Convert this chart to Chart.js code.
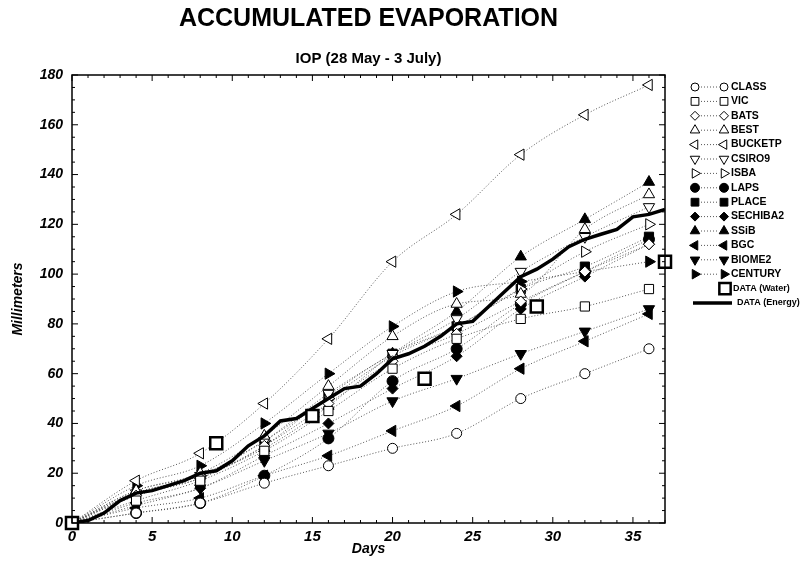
<!DOCTYPE html>
<html lang="en">
<head>
<meta charset="UTF-8">
<title>Accumulated Evaporation</title>
<script src="https://cdn.jsdelivr.net/npm/chart.js"></script>
<style>
  body { margin: 0; background: #fff; }
</style>
</head>
<body>
<canvas id="evapChart" width="809" height="573"></canvas>

<script>
    // model output every 4 days (day 0 has no marker)
    const modelDays = [0, 4, 8, 12, 16, 20, 24, 28, 32, 36];
    const classVals    = [0, 4, 8, 16, 23, 30, 36, 50, 60, 70];
    const vicVals      = [0, 9, 17, 29, 45, 62, 74, 82, 87, 94];
    const batsVals     = [0, 11, 18, 31, 48, 65, 76, 89, 101, 112];
    const bestVals     = [0, 13, 20, 35, 55, 75, 88, 92, 118, 132];
    const bucketpVals  = [0, 17, 28, 48, 74, 105, 124, 148, 164, 176];
    const csiro9Vals   = [0, 12, 19, 33, 52, 68, 82, 101, 115, 127];
    const isbaVals     = [0, 12, 19, 33, 50, 67, 79, 94, 109, 120];
    const lapsVals     = [0, 4, 8, 19, 34, 57, 70, 88, 101, 114];
    const placeVals    = [0, 11, 18, 31, 51, 68, 79, 94, 103, 115];
    const sechiba2Vals = [0, 8, 14, 27, 40, 54, 67, 86, 99, 112];
    const ssibVals     = [0, 13, 19, 30, 47, 68, 85, 107, 122, 137];
    const bgcVals      = [0, 6, 10, 19, 27, 37, 47, 62, 73, 84];
    const biome2Vals   = [0, 7, 14, 25, 36, 49, 58, 68, 77, 86];
    const centuryVals  = [0, 15, 23, 40, 60, 79, 93, 97, 101, 105];

    // observations
    const waterDays = [0, 9, 15, 22, 29, 37];
    const waterVals = [0, 32, 43, 58, 87, 105];
    const energyDays = [0, 1, 2, 3, 4, 5, 6, 7, 8, 9, 10, 11, 12, 13, 14, 15, 16, 17, 18,
                        19, 20, 21, 22, 23, 24, 25, 26, 27, 28, 29, 30, 31, 32, 33, 34, 35, 36, 37];
    const energyVals = [0, 1, 4, 9, 12, 13, 15, 17, 20, 21, 25, 31, 35, 41, 42, 46, 50, 54, 55,
                        60, 66, 68, 71, 75, 80, 81, 87, 93, 99, 102, 106, 111, 114, 116, 118, 123, 124, 126];

    const yTicks = [0, 20, 40, 60, 80, 100, 120, 140, 160, 180];

    const models = [
        { name: 'CLASS',    vals: classVals,    style: 'circle',   rot: 0,   r: 5,   open: true },
        { name: 'VIC',      vals: vicVals,      style: 'rect',     rot: 0,   r: 6.5, open: true },
        { name: 'BATS',     vals: batsVals,     style: 'rectRot',  rot: 0,   r: 5.5, open: true },
        { name: 'BEST',     vals: bestVals,     style: 'triangle', rot: 0,   r: 6.5, open: true },
        { name: 'BUCKETP',  vals: bucketpVals,  style: 'triangle', rot: 270, r: 6.5, open: true },
        { name: 'CSIRO9',   vals: csiro9Vals,   style: 'triangle', rot: 180, r: 6.5, open: true },
        { name: 'ISBA',     vals: isbaVals,     style: 'triangle', rot: 90,  r: 6.5, open: true },
        { name: 'LAPS',     vals: lapsVals,     style: 'circle',   rot: 0,   r: 5.5, open: false },
        { name: 'PLACE',    vals: placeVals,    style: 'rect',     rot: 0,   r: 6.5, open: false },
        { name: 'SECHIBA2', vals: sechiba2Vals, style: 'rectRot',  rot: 0,   r: 5.5, open: false },
        { name: 'SSiB',     vals: ssibVals,     style: 'triangle', rot: 0,   r: 6.5, open: false },
        { name: 'BGC',      vals: bgcVals,      style: 'triangle', rot: 270, r: 6.5, open: false },
        { name: 'BIOME2',   vals: biome2Vals,   style: 'triangle', rot: 180, r: 6.5, open: false },
        { name: 'CENTURY',  vals: centuryVals,  style: 'triangle', rot: 90,  r: 6.5, open: false }
    ];

    function pairs(xs, ys) {
        return xs.map((x, i) => ({ x: x, y: ys[i] }));
    }

    const datasets = [
        {
            label: 'DATA (Water)',
            data: pairs(waterDays, waterVals),
            showLine: false,
            pointStyle: 'rect',
            pointRadius: 8.5,
            pointBorderWidth: 2.5,
            pointBorderColor: '#000',
            pointBackgroundColor: '#fff',
            clip: false
        },
        {
            label: 'DATA (Energy)',
            data: pairs(energyDays, energyVals),
            borderColor: '#000',
            borderWidth: 3.5,
            pointRadius: 0,
            tension: 0
        }
    ];

    models.forEach(m => {
        datasets.push({
            label: m.name,
            data: pairs(modelDays, m.vals),
            borderColor: '#555',
            borderWidth: 1,
            borderDash: [1, 2],
            cubicInterpolationMode: 'monotone',
            pointStyle: m.style,
            pointRotation: m.rot,
            pointRadius: ctx => ctx.dataIndex === 0 ? 0 : m.r,
            pointBorderColor: '#000',
            pointBorderWidth: 1,
            pointBackgroundColor: m.open ? '#fff' : '#000'
        });
    });

    // box around the plot with inward ticks on all four sides
    const frameTicks = {
        id: 'frameTicks',
        afterDatasetsDraw(chart) {
            const { ctx, chartArea: a, scales } = chart;
            ctx.save();
            ctx.strokeStyle = '#000';
            ctx.lineWidth = 1.5;
            ctx.strokeRect(a.left, a.top, a.right - a.left, a.bottom - a.top);
            ctx.lineWidth = 1;
            ctx.beginPath();
            for (let d = 0; d <= 37; d++) {
                const px = scales.x.getPixelForValue(d);
                const len = d % 5 === 0 ? 6 : 3;
                ctx.moveTo(px, a.bottom); ctx.lineTo(px, a.bottom - len);
                ctx.moveTo(px, a.top); ctx.lineTo(px, a.top + len);
            }
            for (let v = 0; v <= 180; v += 5) {
                const py = scales.y.getPixelForValue(v);
                const len = v % 20 === 0 ? 6 : 3;
                ctx.moveTo(a.left, py); ctx.lineTo(a.left + len, py);
                ctx.moveTo(a.right, py); ctx.lineTo(a.right - len, py);
            }
            ctx.stroke();
            ctx.restore();
        }
    };

    const headings = {
        id: 'headings',
        afterDraw(chart) {
            const { ctx, chartArea: a } = chart;
            const cx = (a.left + a.right) / 2;
            ctx.save();
            ctx.fillStyle = '#000';
            ctx.textAlign = 'center';
            ctx.textBaseline = 'middle';
            ctx.font = 'bold 25px "Liberation Sans", Arial, sans-serif';
            ctx.fillText('ACCUMULATED EVAPORATION', cx, 19);
            ctx.font = 'bold 15px "Liberation Sans", Arial, sans-serif';
            ctx.fillText('IOP (28 May - 3 July)', cx, 59);
            ctx.restore();
        }
    };

    const sideLegend = {
        id: 'sideLegend',
        afterDraw(chart) {
            const ctx = chart.ctx;
            const x1 = 695, x2 = 724, tx = 731, y0 = 87, dy = 14.4;
            ctx.save();
            ctx.font = 'bold 10.5px "Liberation Sans", Arial, sans-serif';
            ctx.textBaseline = 'middle';
            ctx.textAlign = 'left';
            models.forEach((m, i) => {
                const y = y0 + i * dy;
                ctx.strokeStyle = '#555';
                ctx.lineWidth = 1;
                ctx.setLineDash([1, 2]);
                ctx.beginPath();
                ctx.moveTo(x1 + 6, y); ctx.lineTo(x2 - 6, y);
                ctx.stroke();
                ctx.setLineDash([]);
                ctx.strokeStyle = '#000';
                ctx.fillStyle = m.open ? '#fff' : '#000';
                const opts = { pointStyle: m.style, rotation: m.rot, radius: m.r - 1, borderWidth: 1 };
                Chart.helpers.drawPoint(ctx, opts, x1, y);
                ctx.fillStyle = m.open ? '#fff' : '#000';
                Chart.helpers.drawPoint(ctx, opts, x2, y);
                ctx.fillStyle = '#000';
                ctx.fillText(m.name, tx, y);
            });
            let y = y0 + models.length * dy;
            ctx.lineWidth = 2.5;
            ctx.strokeStyle = '#000';
            ctx.fillStyle = '#fff';
            Chart.helpers.drawPoint(ctx, { pointStyle: 'rect', rotation: 0, radius: 8, borderWidth: 2.5 }, x2 + 1, y);
            ctx.fillStyle = '#000';
            ctx.font = 'bold 9px "Liberation Sans", Arial, sans-serif';
            ctx.fillText('DATA (Water)', tx + 2, y);
            y += dy;
            ctx.lineWidth = 3.5;
            ctx.beginPath();
            ctx.moveTo(x1 - 2, y); ctx.lineTo(x2 + 8, y);
            ctx.stroke();
            ctx.fillText('DATA (Energy)', tx + 6, y);
            ctx.restore();
        }
    };

    const ctx = document.getElementById('evapChart').getContext('2d');
    new Chart(ctx, {
        type: 'line',
        data: { datasets: datasets },
        options: {
            responsive: false,
            animation: false,
            layout: { padding: { left: 10, right: 144, top: 75, bottom: 15 } },
            plugins: {
                legend: { display: false },
                tooltip: { enabled: false }
            },
            scales: {
                x: {
                    type: 'linear',
                    min: 0,
                    max: 37,
                    grid: { display: false, drawTicks: false },
                    border: { display: false },
                    ticks: {
                        stepSize: 5,
                        includeBounds: false,
                        padding: 5,
                        color: '#000',
                        font: { family: '"Liberation Sans", Arial, sans-serif', size: 15, weight: 'bold', style: 'italic' }
                    },
                    title: {
                        display: true,
                        text: 'Days',
                        color: '#000',
                        padding: { top: 0, bottom: 0 },
                        font: { family: '"Liberation Sans", Arial, sans-serif', size: 14, weight: 'bold', style: 'italic' }
                    },
                    afterFit: s => { s.height = 35; }
                },
                y: {
                    min: 0,
                    max: 180,
                    grid: { display: false, drawTicks: false },
                    border: { display: false },
                    afterBuildTicks: s => { s.ticks = yTicks.map(v => ({ value: v })); },
                    ticks: {
                        padding: 9,
                        color: '#000',
                        font: { family: '"Liberation Sans", Arial, sans-serif', size: 14, weight: 'bold', style: 'italic' }
                    },
                    title: {
                        display: true,
                        text: 'Millimeters',
                        color: '#000',
                        padding: { top: 0, bottom: 0 },
                        font: { family: '"Liberation Sans", Arial, sans-serif', size: 14, weight: 'bold', style: 'italic' }
                    },
                    afterFit: s => { s.width = 62; }
                }
            }
        },
        plugins: [frameTicks, headings, sideLegend]
    });
</script>
</body>
</html>
